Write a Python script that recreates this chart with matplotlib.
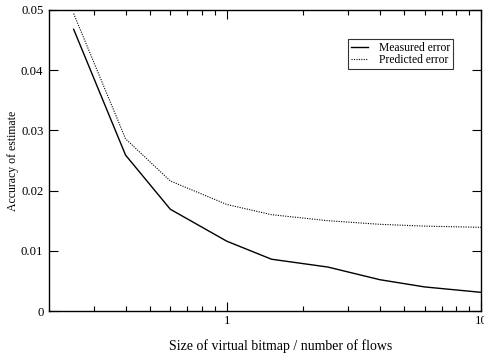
import matplotlib
matplotlib.use("Agg")
import matplotlib.pyplot as plt
from matplotlib.ticker import FixedLocator, NullFormatter, FixedFormatter

plt.rcParams['font.family'] = ['Liberation Serif', 'DejaVu Serif']

# bitmap size relative to number of flows
ratio = [0.25, 0.4, 0.6, 1.0, 1.5, 2.5, 4.0, 6.0, 10.0]
measured = [0.0468, 0.0259, 0.0169, 0.0116, 0.0086, 0.0073, 0.0052, 0.0040, 0.0031]
predicted = [0.0494, 0.0286, 0.0216, 0.0177, 0.0160, 0.0150, 0.0144, 0.0141, 0.0139]

fig = plt.figure(figsize=(4.85, 3.53), dpi=100)
ax = fig.add_axes([49/485, 1 - 311/353, (481-49)/485, (311-10)/353])

ax.plot(ratio, measured, color='black', lw=1.0, label='Measured error')
ax.plot(ratio, predicted, color='black', lw=0.8, ls=(0, (1, 1.2)), label='Predicted error')

ax.set_xscale('log')
ax.set_xlim(0.2, 10)
ax.set_ylim(0, 0.05)

ax.xaxis.set_major_locator(FixedLocator([1, 10]))
ax.xaxis.set_major_formatter(FixedFormatter(['1', '10']))
minor = [0.3, 0.4, 0.5, 0.6, 0.7, 0.8, 0.9, 2, 3, 4, 5, 6, 7, 8, 9]
ax.xaxis.set_minor_locator(FixedLocator(minor))
ax.xaxis.set_minor_formatter(NullFormatter())
yt = [0, 0.01, 0.02, 0.03, 0.04, 0.05]
ax.set_yticks(yt)
ax.set_yticklabels(['0', '0.01', '0.02', '0.03', '0.04', '0.05'])

ax.tick_params(which='both', direction='in', top=True, right=True, labelsize=9.2, width=0.8)
ax.tick_params(which='major', length=6.5)
ax.tick_params(which='minor', length=3.6)
ax.tick_params(axis='x', pad=3)
ax.tick_params(axis='y', pad=4)
for s in ax.spines.values():
    s.set_linewidth(1.0)

ax.set_xlabel('Size of virtual bitmap / number of flows', fontsize=10, va='center')
ax.xaxis.set_label_coords(0.537, -0.116)
ax.set_ylabel('Accuracy of estimate', fontsize=8.5, va='center')
ax.yaxis.set_label_coords(-0.083, 0.5)

leg = ax.legend(loc='upper right', bbox_to_anchor=(0.935, 0.904), fontsize=8.4,
                frameon=True, fancybox=False, edgecolor='black', handlelength=1.4,
                borderpad=0.25, labelspacing=0.02, handletextpad=0.95, borderaxespad=0)
leg.get_frame().set_linewidth(0.8)

fig.savefig('out.png', dpi=100)
